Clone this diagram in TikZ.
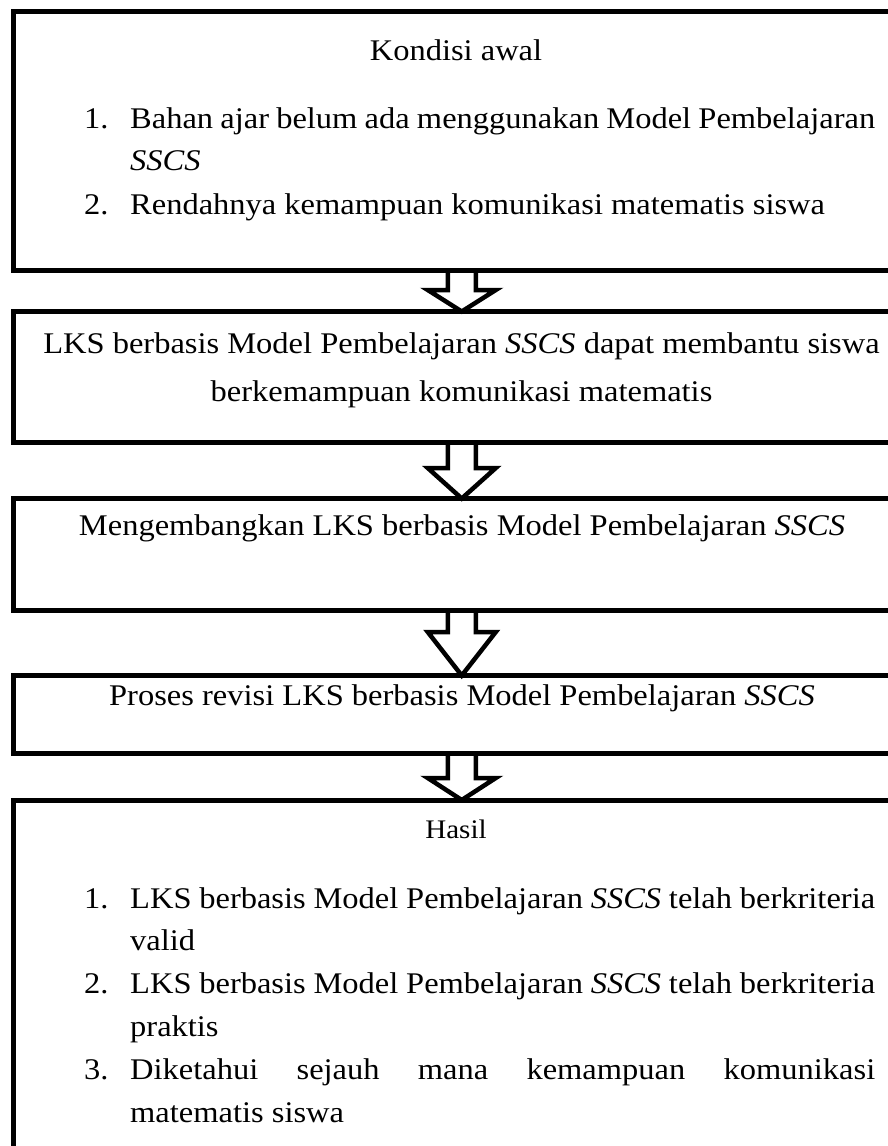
\documentclass[tikz,border=0pt]{standalone}
\usepackage{fontspec}
\setmainfont{Liberation Serif}[FakeStretch=1.083]
\hyphenpenalty=10000
\exhyphenpenalty=10000
\tolerance=10000
\newcommand{\blockarrow}[3]{%
  \draw[arr] ([xshift=-14pt]#1) -- ([xshift=-14pt,yshift=#3]#2)
    -- ([xshift=-34pt,yshift=#3]#2) -- (#2)
    -- ([xshift=34pt,yshift=#3]#2) -- ([xshift=14pt,yshift=#3]#2)
    -- ([xshift=14pt]#1);}
\begin{document}
\begin{tikzpicture}[x=1pt,y=-1pt,
  box/.style={draw, line width=5pt, outer sep=0pt, inner sep=0pt, minimum width=896.5pt},
  txt/.style={font=\fontsize{30}{42.8}\selectfont, inner sep=0pt},
  itemtext/.style={txt, anchor=base west, text width=745pt, align=justify},
  num/.style={txt, anchor=base west},
  arr/.style={draw, line width=4.5pt, line join=miter}]
\useasboundingbox (0,0) rectangle (888,1146);
\clip (0,0) rectangle (888,1146);
% boxes
\node[box, minimum height=259pt] (b1) at (461.75,141) {};
\node[box, minimum height=131pt] (b2) at (461.75,377) {};
\node[box, minimum height=112pt] (b3) at (461.75,554.5) {};
\node[box, minimum height=77.5pt] (b4) at (461.75,714.25) {};
\node[box, minimum height=360pt] (b5) at (461.75,980) {};
% box 1
\node[txt, anchor=base] (t1) at (456,60) {Kondisi awal};
\node[num] (n11) at (84,128) {1.};
\node[itemtext] (i11) at (130,128) {Bahan ajar belum ada menggunakan Model Pembelajaran \textit{SSCS}};
\node[num] (n12) at (84,214) {2.};
\node[itemtext] (i12) at (130,214) {Rendahnya kemampuan komunikasi matematis siswa};
% box 2
\node[txt, anchor=base, align=center, font=\fontsize{30}{48}\selectfont] (t2) at (461.5,401)
  {LKS berbasis Model Pembelajaran \textit{SSCS} dapat membantu siswa\\berkemampuan komunikasi matematis};
% box 3
\node[txt, anchor=base] (t3) at (462,535) {Mengembangkan LKS berbasis Model Pembelajaran \textit{SSCS}};
% box 4
\node[txt, anchor=base] (t4) at (462,705) {Proses revisi LKS berbasis Model Pembelajaran \textit{SSCS}};
% box 5
\node[txt, anchor=base, font=\fontsize{26.8}{34}\selectfont] (t5) at (456,838) {Hasil};
\node[num] (n51) at (84,908) {1.};
\node[itemtext] (i51) at (130,908) {LKS berbasis Model Pembelajaran \textit{SSCS} telah berkriteria valid};
\node[num] (n52) at (84,993.6) {2.};
\node[itemtext] (i52) at (130,993.6) {LKS berbasis Model Pembelajaran \textit{SSCS} telah berkriteria praktis};
\node[num] (n53) at (84,1079.2) {3.};
\node[itemtext] (i53) at (130,1079.2) {Diketahui sejauh mana kemampuan komunikasi matematis siswa};
% arrows
\blockarrow{b1.south}{b2.north}{21.5pt}
\blockarrow{b2.south}{b3.north}{30.5pt}
\blockarrow{b3.south}{b4.north}{43.5pt}
\blockarrow{b4.south}{b5.north}{22pt}
\end{tikzpicture}
\end{document}
